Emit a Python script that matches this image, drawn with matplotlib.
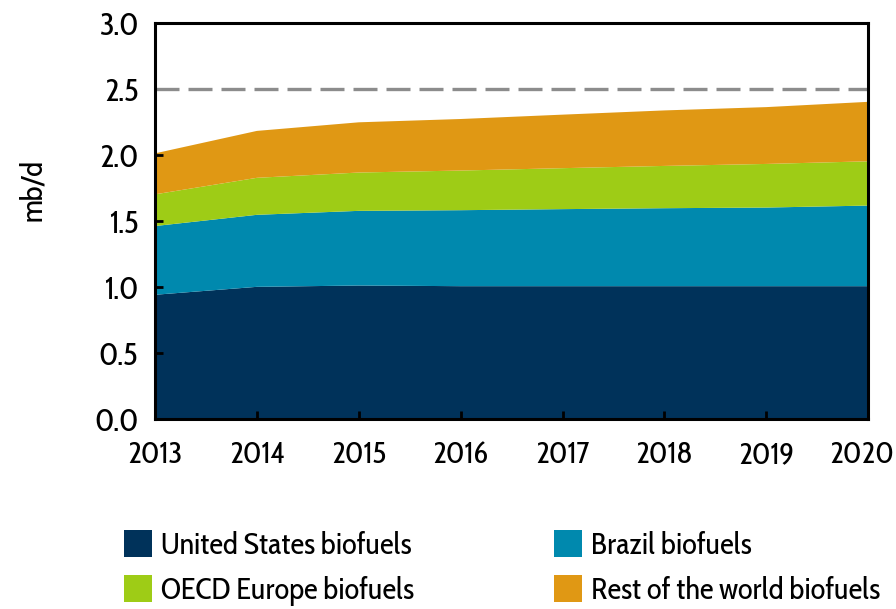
import matplotlib
matplotlib.use("Agg")
import matplotlib.pyplot as plt
import matplotlib.transforms as mtransforms
from matplotlib.patches import Patch

plt.rcParams['font.family'] = ['Cabin Condensed', 'DejaVu Sans']

years = [2013, 2014, 2015, 2016, 2017, 2018, 2019, 2020]
us = [0.94, 1.00, 1.01, 1.005, 1.005, 1.005, 1.005, 1.005]
brazil = [0.52, 0.545, 0.565, 0.575, 0.583, 0.59, 0.595, 0.61]
oecd_europe = [0.24, 0.28, 0.29, 0.30, 0.31, 0.32, 0.33, 0.335]
rest_world = [0.31, 0.355, 0.38, 0.39, 0.405, 0.42, 0.43, 0.45]
labels = ["United States biofuels", "Brazil biofuels",
          "OECD Europe biofuels", "Rest of the world biofuels"]
colors = ["#00325a", "#0089ae", "#9ecc16", "#e09814"]
y_ticks = [0.0, 0.5, 1.0, 1.5, 2.0, 2.5, 3.0]
ref_level = 2.5

fig = plt.figure(figsize=(8.96, 6.09), dpi=100)
ax = fig.add_axes([0.173, 0.312, 0.796, 0.651])

ax.stackplot(years, us, brazil, oecd_europe, rest_world, colors=colors,
             labels=labels, linewidth=0)
ax.axhline(ref_level, color="#8c8c8c", linestyle=(0, (7.2, 2.7)), linewidth=2.4, zorder=3)

ax.set_xlim(years[0], years[-1])
ax.set_ylim(0, 3.0)
ax.set_xticks(years)
ax.set_xticklabels([str(y) for y in years])
ax.set_yticks(y_ticks)
ax.set_yticklabels([f"{v:.1f}" for v in y_ticks])
ax.tick_params(axis='both', direction='in', length=6, width=2, labelsize=23,
               top=False, right=False)
ax.tick_params(axis='x', pad=15, labelsize=22)
ax.tick_params(axis='y', pad=12)
for s in ax.spines.values():
    s.set_linewidth(2.2)
    s.set_color('black')
    s.set_zorder(4)
ax.set_ylabel("mb/d", fontsize=22)
ax.yaxis.set_label_coords(-0.150, 0.578)

# keep the last year label inside the canvas
last = ax.get_xticklabels()[-1]
last.set_transform(last.get_transform() +
                   mtransforms.ScaledTranslation(-6 / 100, 0, fig.dpi_scale_trans))

handles = [Patch(facecolor=c, edgecolor='none') for c in colors]
order = [0, 2, 1, 3]
fig.legend([handles[i] for i in order], [labels[i] for i in order],
           loc='lower left', bbox_to_anchor=(0.108, -0.040), ncol=2,
           frameon=False, fontsize=22, handlelength=0.9, handleheight=1.0,
           handletextpad=0.3, columnspacing=4.6, labelspacing=0.45)

fig.savefig("out.png", dpi=100)
